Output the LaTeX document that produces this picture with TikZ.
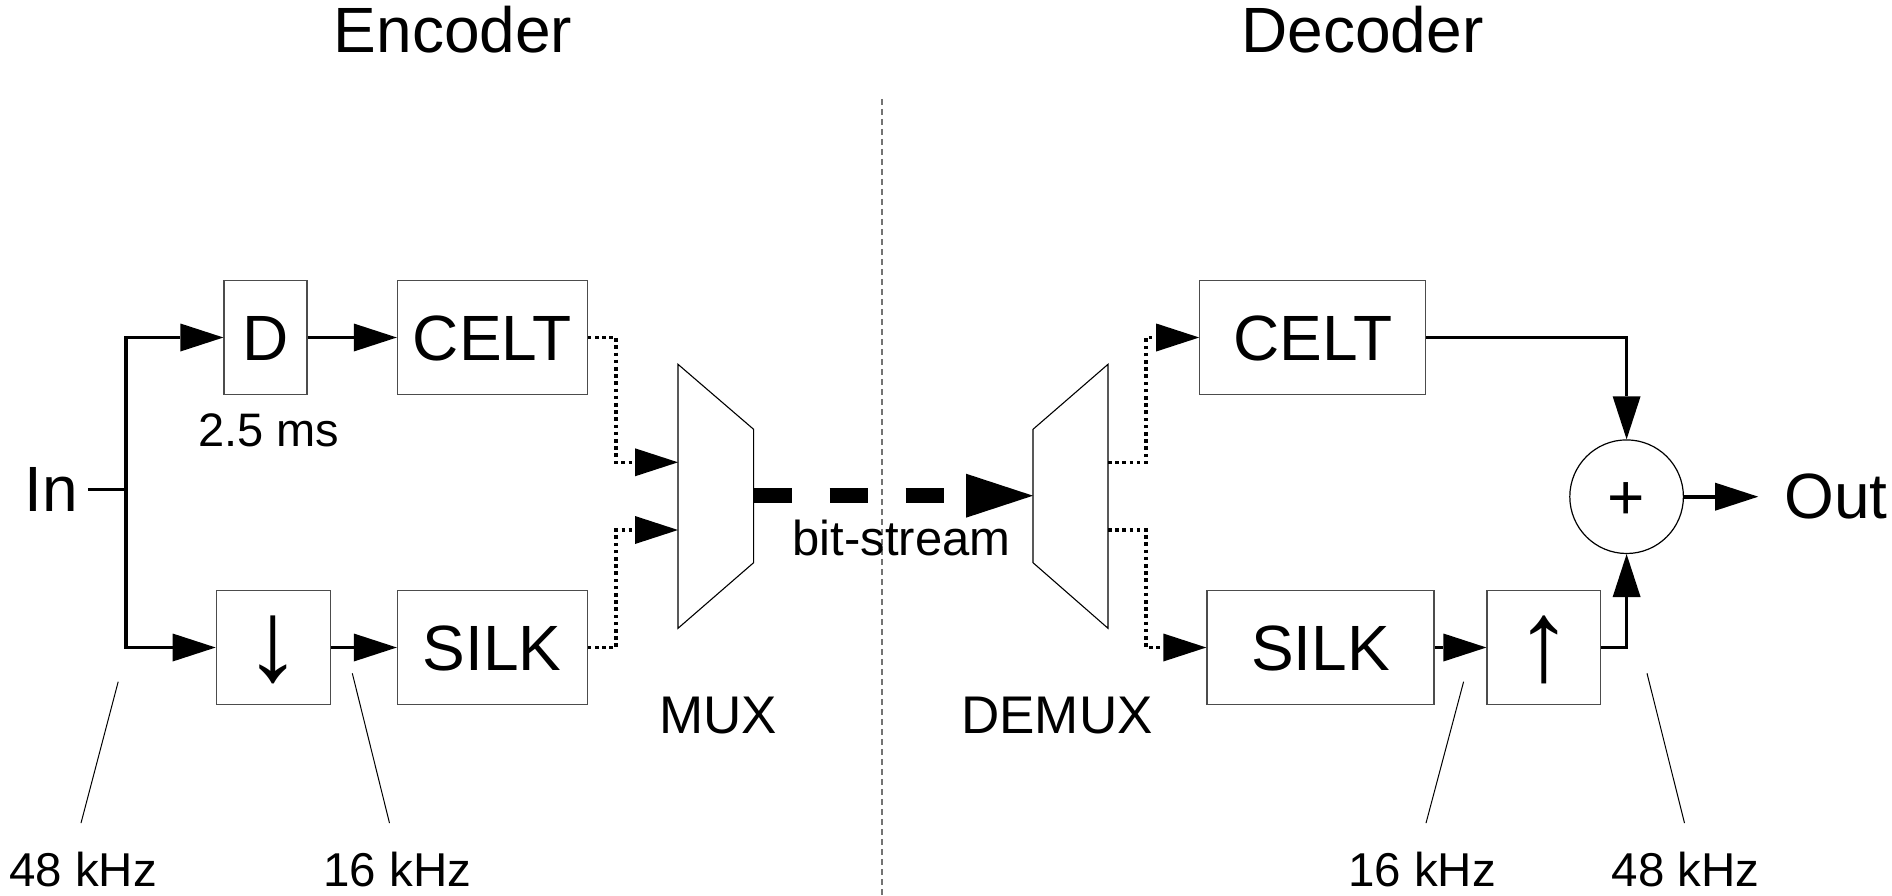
\documentclass[tikz,border=0pt]{standalone}
\usepackage{fontspec}
\setmainfont{Liberation Sans}
\usetikzlibrary{arrows.meta,calc}
\begin{document}
\begin{tikzpicture}[x=1pt,y=-1pt,
  bigf/.style={font=\fontsize{64}{70}\selectfont},
  titlef/.style={font=\fontsize{64}{72}\selectfont},
  box/.style={draw=black!70, line width=1.2pt, inner sep=0pt, minimum height=113.6pt,
              text height=45.8pt, text depth=0pt, bigf},
  arrowbox/.style={box, font=\fontsize{115}{120}\selectfont, text height=66pt},
  lbl/.style={inner sep=0pt, anchor=base},
  smallf/.style={font=\fontsize{47.5}{54}\selectfont},
  wire/.style={line width=3.6pt, line join=miter},
  tip/.style={-{Triangle[length=43pt,width=28pt,line width=0pt]}},
  dotwire/.style={wire, dash pattern=on 3.6pt off 3.6pt},
  note/.style={line width=1pt},
  trap/.style={line width=1.1pt, line join=miter},
]
\useasboundingbox (0,0) rectangle (1892,896);

% separator
\draw[black!55, line width=1.2pt, dash pattern=on 6pt off 4pt] (882,99) -- (882,896);

% titles
\node[lbl, titlef] (enc) at (453,52.7) {Encoder};
\node[lbl, titlef] (dec) at (1362.5,52.7) {Decoder};

% encoder blocks
\node[box, minimum width=83pt]    (d)     at (265.5,337.5) {D};
\node[box, minimum width=189.8pt] (celtE) at (492.3,337.5) {CELT};
\node[arrowbox, minimum width=114pt] (down)  at (273.25,647.5) {↓};
\node[box, minimum width=189.8pt] (silkE) at (492.3,647.5) {SILK};

% decoder blocks
\node[box, minimum width=226pt]   (celtD) at (1312.8,337.5) {CELT};
\node[box, minimum width=227pt]   (silkD) at (1320.4,647.5) {SILK};
\node[arrowbox, minimum width=113.5pt] (up) at (1543.75,647.5) {↑};
\node[circle, draw, line width=1.2pt, minimum size=113.6pt, inner sep=0pt,
      text height=46pt, text depth=0pt, bigf] (sum) at (1626.6,496.7) {+};

% labels
\node[lbl, bigf] (in)  at (51,511.7) {In};
\node[lbl, bigf] (out) at (1836,518.3) {Out};
\node[lbl, font=\fontsize{47}{54}\selectfont] (delay) at (269,446.7) {2.5 ms};
\node[lbl, font=\fontsize{53}{60}\selectfont] (muxl) at (718,733) {MUX};
\node[lbl, font=\fontsize{53}{60}\selectfont] (demuxl) at (1057,733) {DEMUX};
\node[lbl, font=\fontsize{49}{56}\selectfont] (bits) at (901.6,555) {bit-stream};
\node[lbl, smallf] (f1) at (83,886.7) {48 kHz};
\node[lbl, smallf] (f2) at (397.5,886.7) {16 kHz};
\node[lbl, smallf] (f3) at (1422,886.7) {16 kHz};
\node[lbl, smallf] (f4) at (1685.5,886.7) {48 kHz};

% MUX / DEMUX shapes
\coordinate (m1) at (678,364.3);  \coordinate (m2) at (753.6,429.3);
\coordinate (m3) at (753.6,562.7); \coordinate (m4) at (678,628.3);
\draw[trap] (m1) -- (m2) -- (m3) -- (m4) -- cycle;
\coordinate (muxin1) at (678,462.3);
\coordinate (muxin2) at (678,530);
\coordinate (muxout) at (753.6,495.7);

\coordinate (dm1) at (1108,364.3); \coordinate (dm2) at (1033,429.3);
\coordinate (dm3) at (1033,562.7); \coordinate (dm4) at (1108,628.3);
\draw[trap] (dm1) -- (dm2) -- (dm3) -- (dm4) -- cycle;
\coordinate (demuxin) at (1033,495.7);
\coordinate (demuxout1) at (1108,462.3);
\coordinate (demuxout2) at (1108,530);

% encoder wiring
\coordinate (split) at (126,488.3);
\draw[wire] ($(in.east)+(10,0)$) -- (in.east -| split);
\draw[wire, tip] (split) |- (d.west);
\draw[wire, tip] (split) |- (down.west);
\draw[wire, tip] (d.east) -- (celtE.west);
\draw[wire, tip] (down.east) -- (silkE.west);
\draw[dotwire, tip] (celtE.east) -| ($(muxin1)+(-62,0)$) -- (muxin1);
\draw[dotwire, tip] (silkE.east) -| ($(muxin2)+(-62,0)$) -- (muxin2);

% bit-stream
\draw[line width=15pt, dash pattern=on 38pt off 38pt,
      -{Triangle[length=67pt,width=44pt,line width=0pt]}] (muxout) -- (demuxin);

% decoder wiring
\draw[dotwire, tip] (demuxout1) -- ($(demuxout1)+(38,0)$) |- (celtD.west);
\draw[dotwire, tip] (demuxout2) -- ($(demuxout2)+(38,0)$) |- (silkD.west);
\draw[wire, tip] (celtD.east) -| (sum.north);
\draw[wire, tip] (silkD.east) -- (up.west);
\draw[wire, tip] (up.east) -| (sum.south);
\draw[wire, tip] (sum.east) -- ($(sum.east -| out.west)+(-26,0)$);

% rate annotations
\coordinate (t1) at (118.2,681.7);
\coordinate (t2) at (352.3,673.3);
\coordinate (t3) at (1463.6,681.7);
\coordinate (t4) at (1647,673.3);
\draw[note] (t1) -- ($(f1.north)+(-2,-29)$);
\draw[note] (t2) -- ($(f2.north)+(-8,-29)$);
\draw[note] (t3) -- ($(f3.north)+(4,-29)$);
\draw[note] (t4) -- ($(f4.north)+(-1,-29)$);
\end{tikzpicture}
\end{document}
